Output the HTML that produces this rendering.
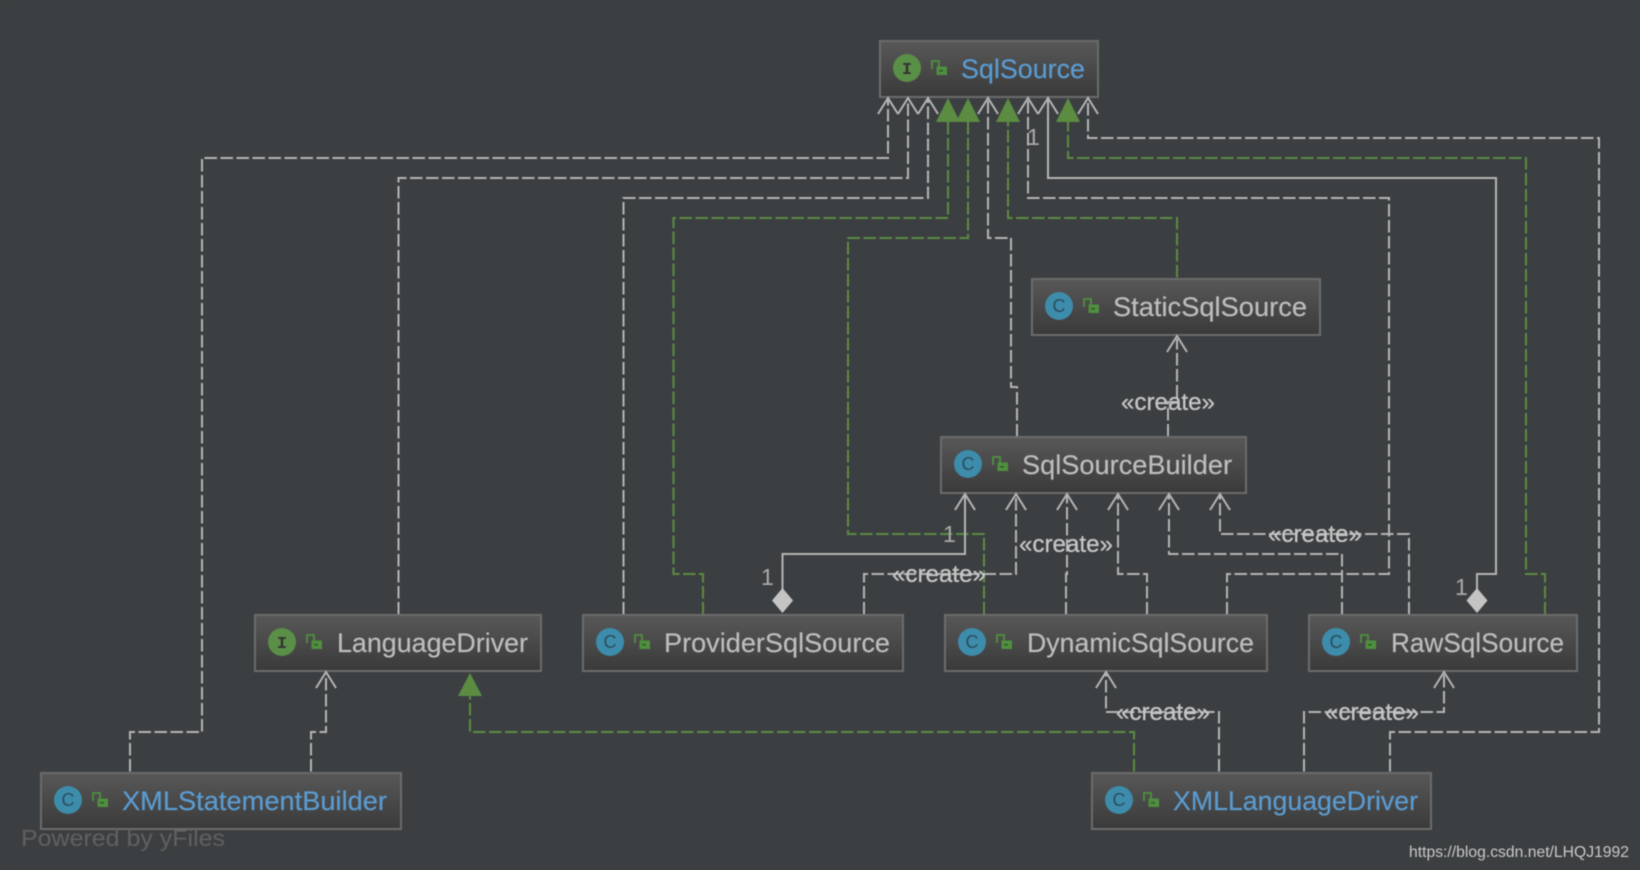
<!DOCTYPE html>
<html><head><meta charset="utf-8"><style>
html,body{margin:0;padding:0;background:#3c3f41;width:1640px;height:870px;overflow:hidden}
svg{display:block;filter:blur(0.4px)}
text{font-family:"Liberation Sans",sans-serif}
.g{fill:none;stroke:#b4b4b4;stroke-width:2;stroke-dasharray:12.5 3.5}
.s{fill:none;stroke:#b4b4b4;stroke-width:2}
.v{fill:none;stroke:#5b8c42;stroke-width:2;stroke-dasharray:12.5 3.5}
.a{fill:none;stroke:#b4b4b4;stroke-width:2}
.t{fill:#5b8c42}
.b{fill:url(#bx);stroke:#6b6b6b;stroke-width:2}
.n{font-size:27px;fill:#bdbdbd;stroke:#bdbdbd;stroke-width:.2}
.n2{font-size:27px;fill:#5b9bd0;stroke:#5b9bd0;stroke-width:.2}
.c{font-size:24px;fill:#c6c6c6;stroke:#c6c6c6;stroke-width:.3}
.o{font-size:23px;fill:#aaa}
.i{font-family:"Liberation Mono",monospace;font-size:17px;font-weight:bold;fill:#333}
.k{font-size:18px;fill:#2b4d5e}
</style></head><body>
<svg width="1640" height="870" viewBox="0 0 1640 870" xmlns="http://www.w3.org/2000/svg">
<defs>
<linearGradient id="bx" x1="0" y1="0" x2="0" y2="1"><stop offset="0" stop-color="#585858"/><stop offset="1" stop-color="#3a3a3a"/></linearGradient>
<g id="lock"><path d="M1 9V1H8V7" fill="none" stroke="#4f8f3f" stroke-width="1.8"/><rect x="5.500" y="6.500" width="10.500" height="8.500" fill="#4f8f3f"/><rect x="8" y="10" width="4" height="1.500" fill="#2f5a28"/></g>
</defs>
<rect width="1640" height="870" fill="#3c3f41"/>

<!-- connectors to SqlSource -->
<path class="g" d="M130 771.500V732H202V158H888V100"/>
<path class="g" d="M398.500 614.500V178H908V100"/>
<path class="g" d="M623.500 614.500V198H928V100"/>
<path class="v" d="M703 614.500V574H673.500V218H948V120"/>
<path class="v" d="M984 614.500V534H848V238H968V120"/>
<path class="g" d="M1017 436.500V387H1011V238H988V100"/>
<path class="v" d="M1177 277.500V218H1008V120"/>
<path class="g" d="M1227 614.500V574H1389V198H1028V100"/>
<path class="s" d="M1048 98V178H1496V574H1477V590"/>
<path class="v" d="M1545 614.500V574H1526V158H1068V120"/>
<path class="g" d="M1390 771.500V732H1599V138H1088V100"/>

<!-- SqlSourceBuilder connectors -->
<path class="s" d="M965 494V554H782.500V590"/>
<path class="g" d="M864 614.500V574H1016V496"/>
<path class="g" d="M1066 614.500V574H1067V496"/>
<path class="g" d="M1147 614.500V574H1118V496"/>
<path class="g" d="M1342 614.500V554H1169V496"/>
<path class="g" d="M1409 614.500V534H1220V496"/>
<path class="g" d="M1168 436.500V402H1177V339"/>

<!-- bottom connectors -->
<path class="g" d="M311 771.500V732H326V674"/>
<path class="v" d="M1134 771.500V732H470V696"/>
<path class="g" d="M1219 771.500V712H1106V674"/>
<path class="g" d="M1304 771.500V712H1444V674"/>

<!-- boxes -->
<rect class="b" x="880" y="41" width="218" height="56"/>
<rect class="b" x="1032" y="279" width="288" height="56"/>
<rect class="b" x="941" y="437" width="305" height="56"/>
<rect class="b" x="255" y="615" width="286" height="56"/>
<rect class="b" x="583" y="615" width="320" height="56"/>
<rect class="b" x="945" y="615" width="322" height="56"/>
<rect class="b" x="1309" y="615" width="268" height="56"/>
<rect class="b" x="41" y="773" width="360" height="56"/>
<rect class="b" x="1092" y="773" width="339" height="56"/>

<!-- open arrowheads -->
<g class="a">
<path d="M878 114L888 98L898 114"/><path d="M898 114L908 98L918 114"/><path d="M918 114L928 98L938 114"/>
<path d="M978 114L988 98L998 114"/><path d="M1018 114L1028 98L1038 114"/><path d="M1038 114L1048 98L1058 114"/><path d="M1078 114L1088 98L1098 114"/>
<path d="M955 510L965 494L975 510"/><path d="M1006 510L1016 494L1026 510"/><path d="M1057 510L1067 494L1077 510"/><path d="M1108 510L1118 494L1128 510"/><path d="M1159 510L1169 494L1179 510"/><path d="M1210 510L1220 494L1230 510"/>
<path d="M1167 352L1177 336L1187 352"/>
<path d="M316 688L326 672L336 688"/><path d="M1096 688L1106 672L1116 688"/><path d="M1434 688L1444 672L1454 688"/>
</g>
<!-- filled triangles -->
<g class="t">
<path d="M948 98L936 122H960Z"/><path d="M968 98L956 122H980Z"/><path d="M1008 98L996 122H1020Z"/><path d="M1068 98L1056 122H1080Z"/><path d="M470 673L458 696H482Z"/>
</g>
<!-- diamonds -->
<path d="M782.500 588L793 600.500L782.500 613L772 600.500Z" fill="#c4c4c4"/>
<path d="M1477 588L1487.500 600.500L1477 613L1466.500 600.500Z" fill="#c4c4c4"/>

<!-- icons -->
<circle cx="907" cy="68" r="14" fill="#5a8f47"/><text class="i" x="907" y="74" text-anchor="middle">I</text><use href="#lock" x="931" y="60"/>
<circle cx="1059" cy="306" r="14" fill="#3d8cab"/><text class="k" x="1059" y="312" text-anchor="middle">C</text><use href="#lock" x="1083" y="298"/>
<circle cx="968" cy="464" r="14" fill="#3d8cab"/><text class="k" x="968" y="470" text-anchor="middle">C</text><use href="#lock" x="992" y="456"/>
<circle cx="282" cy="642" r="14" fill="#5a8f47"/><text class="i" x="282" y="648" text-anchor="middle">I</text><use href="#lock" x="306" y="634"/>
<circle cx="610" cy="642" r="14" fill="#3d8cab"/><text class="k" x="610" y="648" text-anchor="middle">C</text><use href="#lock" x="634" y="634"/>
<circle cx="972" cy="642" r="14" fill="#3d8cab"/><text class="k" x="972" y="648" text-anchor="middle">C</text><use href="#lock" x="996" y="634"/>
<circle cx="1336" cy="642" r="14" fill="#3d8cab"/><text class="k" x="1336" y="648" text-anchor="middle">C</text><use href="#lock" x="1360" y="634"/>
<circle cx="68" cy="800" r="14" fill="#3d8cab"/><text class="k" x="68" y="806" text-anchor="middle">C</text><use href="#lock" x="92" y="792"/>
<circle cx="1119" cy="800" r="14" fill="#3d8cab"/><text class="k" x="1119" y="806" text-anchor="middle">C</text><use href="#lock" x="1143" y="792"/>

<!-- names -->
<text class="n2" x="961" y="78" textLength="124" lengthAdjust="spacingAndGlyphs">SqlSource</text>
<text class="n" x="1113" y="316" textLength="194" lengthAdjust="spacingAndGlyphs">StaticSqlSource</text>
<text class="n" x="1022" y="474" textLength="210" lengthAdjust="spacingAndGlyphs">SqlSourceBuilder</text>
<text class="n" x="337" y="652" textLength="191" lengthAdjust="spacingAndGlyphs">LanguageDriver</text>
<text class="n" x="664" y="652" textLength="226" lengthAdjust="spacingAndGlyphs">ProviderSqlSource</text>
<text class="n" x="1027" y="652" textLength="227" lengthAdjust="spacingAndGlyphs">DynamicSqlSource</text>
<text class="n" x="1391" y="652" textLength="173" lengthAdjust="spacingAndGlyphs">RawSqlSource</text>
<text class="n2" x="122" y="810" textLength="265" lengthAdjust="spacingAndGlyphs">XMLStatementBuilder</text>
<text class="n2" x="1173" y="810" textLength="245" lengthAdjust="spacingAndGlyphs">XMLLanguageDriver</text>

<!-- create labels -->
<text class="c" x="1121" y="410" textLength="94" lengthAdjust="spacingAndGlyphs">«create»</text>
<text class="c" x="1019" y="552" textLength="94" lengthAdjust="spacingAndGlyphs">«create»</text>
<text class="c" x="892" y="582" textLength="94" lengthAdjust="spacingAndGlyphs">«create»</text>
<text class="c" x="1268" y="542" textLength="94" lengthAdjust="spacingAndGlyphs">«create»</text>
<text class="c" x="1116" y="720" textLength="94" lengthAdjust="spacingAndGlyphs">«create»</text>
<text class="c" x="1325" y="720" textLength="94" lengthAdjust="spacingAndGlyphs">«create»</text>

<!-- multiplicity -->
<text class="o" x="1027" y="145">1</text>
<text class="o" x="943" y="542">1</text>
<text class="o" x="761" y="585">1</text>
<text class="o" x="1455" y="595">1</text>

<text x="21" y="846" font-size="23" fill="#606060" textLength="204" lengthAdjust="spacingAndGlyphs">Powered by yFiles</text>
<text x="1409" y="857" font-size="16" fill="#c8c8c8" textLength="220" lengthAdjust="spacingAndGlyphs">https://blog.csdn.net/LHQJ1992</text>
</svg>
</body></html>
